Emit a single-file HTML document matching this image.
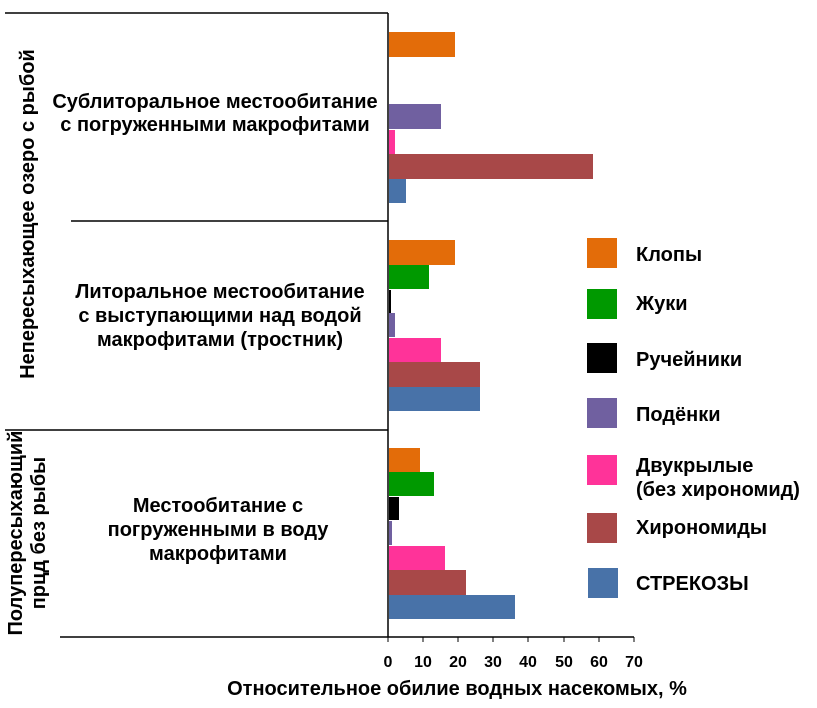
<!DOCTYPE html>
<html><head><meta charset="utf-8"><style>
body{margin:0;background:#fff;}
svg text{font-family:"Liberation Sans",sans-serif;font-weight:bold;fill:#000;}
</style></head><body>
<svg width="817" height="703" viewBox="0 0 817 703" xmlns="http://www.w3.org/2000/svg">
<g stroke="#000" stroke-width="1.5">
<line x1="5" y1="13" x2="388" y2="13"/>
<line x1="71" y1="221" x2="388" y2="221"/>
<line x1="5" y1="430" x2="388" y2="430"/>
<line x1="60" y1="637" x2="634" y2="637"/>
<line x1="388" y1="13" x2="388" y2="637"/>
<g stroke-width="1">
<line x1="388" y1="637" x2="388" y2="642"/><line x1="423" y1="637" x2="423" y2="642"/><line x1="458" y1="637" x2="458" y2="642"/><line x1="493" y1="637" x2="493" y2="642"/><line x1="528" y1="637" x2="528" y2="642"/><line x1="564" y1="637" x2="564" y2="642"/><line x1="599" y1="637" x2="599" y2="642"/><line x1="634" y1="637" x2="634" y2="642"/>
</g></g>
<rect x="389" y="32" width="66" height="25" fill="#E36C09"/>
<rect x="389" y="104" width="52" height="25" fill="#7060A0"/>
<rect x="389" y="130" width="6" height="24" fill="#FF3399"/>
<rect x="389" y="154" width="204" height="25" fill="#A84848"/>
<rect x="389" y="179" width="17" height="24" fill="#4872A8"/>
<rect x="389" y="240" width="66" height="25" fill="#E36C09"/>
<rect x="389" y="265" width="40" height="24" fill="#009900"/>
<rect x="389" y="290" width="2" height="23" fill="#000"/>
<rect x="389" y="313" width="6" height="24" fill="#7060A0"/>
<rect x="389" y="338" width="52" height="24" fill="#FF3399"/>
<rect x="389" y="362" width="91" height="25" fill="#A84848"/>
<rect x="389" y="387" width="91" height="24" fill="#4872A8"/>
<rect x="389" y="448" width="31" height="24" fill="#E36C09"/>
<rect x="389" y="472" width="45" height="24" fill="#009900"/>
<rect x="389" y="497" width="10" height="23" fill="#000"/>
<rect x="389" y="521" width="3" height="24" fill="#7060A0"/>
<rect x="389" y="546" width="56" height="24" fill="#FF3399"/>
<rect x="389" y="570" width="77" height="25" fill="#A84848"/>
<rect x="389" y="595" width="126" height="24" fill="#4872A8"/>
<rect x="587" y="238" width="30" height="30" fill="#E36C09"/>
<rect x="587" y="289" width="30" height="30" fill="#009900"/>
<rect x="587" y="343" width="30" height="30" fill="#000"/>
<rect x="587" y="398" width="30" height="30" fill="#7060A0"/>
<rect x="587" y="455" width="30" height="30" fill="#FF3399"/>
<rect x="587" y="513" width="30" height="30" fill="#A84848"/>
<rect x="588" y="568" width="30" height="30" fill="#4872A8"/>
<g font-size="20">
<text x="636" y="261">Клопы</text>
<text x="636" y="310">Жуки</text>
<text x="636" y="366">Ручейники</text>
<text x="636" y="421">Подёнки</text>
<text x="636" y="472">Двукрылые</text>
<text x="636" y="496">(без хирономид)</text>
<text x="636" y="534">Хирономиды</text>
<text x="636" y="590">СТРЕКОЗЫ</text>
</g>
<g font-size="20" text-anchor="middle">
<text x="215" y="108">Сублиторальное местообитание</text>
<text x="215" y="131">с погруженными макрофитами</text>
<text x="220" y="298">Литоральное местообитание</text>
<text x="220" y="322">с выступающими над водой</text>
<text x="220" y="346">макрофитами (тростник)</text>
<text x="218" y="512">Местообитание с</text>
<text x="218" y="536">погруженными в воду</text>
<text x="218" y="560">макрофитами</text>
<text transform="translate(34,214) rotate(-90)">Непересыхающее озеро с рыбой</text>
<text transform="translate(22,533) rotate(-90)">Полупересыхающий</text>
<text transform="translate(45,533) rotate(-90)">прцд без рыбы</text>
</g>
<g font-size="16" text-anchor="middle">
<text x="388" y="667">0</text><text x="423" y="667">10</text><text x="458" y="667">20</text><text x="493" y="667">30</text><text x="528" y="667">40</text><text x="564" y="667">50</text><text x="599" y="667">60</text><text x="634" y="667">70</text>
</g>
<text x="457" y="695" font-size="20" text-anchor="middle">Относительное обилие водных насекомых, %</text>
</svg>
</body></html>
